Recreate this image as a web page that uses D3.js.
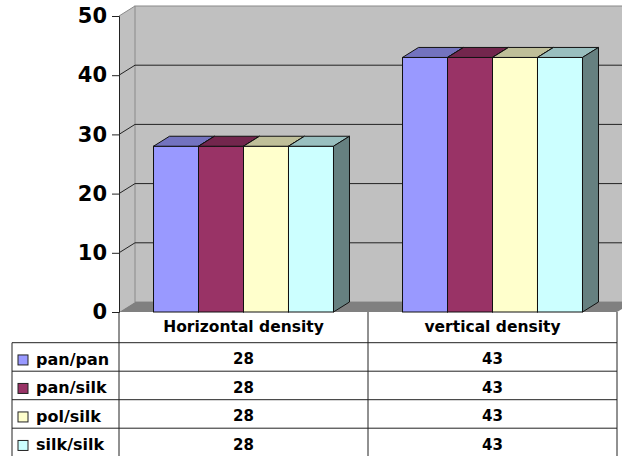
<!DOCTYPE html>
<html>
<head>
<meta charset="utf-8">
<script src="https://cdn.jsdelivr.net/npm/d3@7"></script>
<style>
  body { margin: 0; background: #fff; }
  text { font-family: "DejaVu Sans", Verdana, sans-serif; font-weight: bold; fill: #000; }
</style>
</head>
<body>
<svg id="chart" width="622" height="456"></svg>
<script>
// data
const categories = ["Horizontal density", "vertical density"];
const seriesNames = ["pan/pan", "pan/silk", "pol/silk", "silk/silk"];
const panPan = [28, 43];
const panSilk = [28, 43];
const polSilk = [28, 43];
const silkSilk = [28, 43];
const yTicks = [0, 10, 20, 30, 40, 50];

const seriesValues = [panPan, panSilk, polSilk, silkSilk];
const fronts = ["#9999ff", "#993366", "#ffffcc", "#ccffff"];

const svg = d3.select("#chart");
const plotLeft = 119, plotRight = 617, plotTop = 16, plotBottom = 312;
const dx = 16, dy = 10;   // 3d depth offset
const tableLeft = 12, rowH = 28.5, headerH = 30.7;

const x0 = d3.scaleBand().domain(categories).range([plotLeft, plotRight]);
const x1 = d3.scaleBand().domain(seriesNames).range([0, x0.bandwidth()]).paddingOuter(0.767);
const y = d3.scaleLinear().domain([0, 50]).range([plotBottom, plotTop]);

// walls and floor
svg.append("polygon")
   .attr("points", [[plotLeft, plotTop], [plotLeft + dx, plotTop - dy], [plotLeft + dx, plotBottom - dy], [plotLeft, plotBottom]].join(" "))
   .attr("fill", "#c0c0c0");
svg.append("rect")
   .attr("x", plotLeft + dx).attr("y", plotTop - dy)
   .attr("width", plotRight - plotLeft).attr("height", plotBottom - plotTop)
   .attr("fill", "#c0c0c0").attr("stroke", "#8a8a8a");
svg.append("polygon")
   .attr("points", [[plotLeft, plotBottom], [plotLeft + dx, plotBottom - dy], [plotRight + dx, plotBottom - dy], [plotRight, plotBottom]].join(" "))
   .attr("fill", "#808080");

// gridlines on back wall + side wall diagonals
const grid = svg.append("g").attr("class", "gridlines");
yTicks.filter(t => t > 0 && t < 50).forEach(t => {
    grid.append("line")
        .attr("x1", plotLeft + dx).attr("x2", plotRight + dx)
        .attr("y1", y(t) - dy).attr("y2", y(t) - dy)
        .attr("stroke", "#222");
});
yTicks.filter(t => t > 0).forEach(t => {
    grid.append("line")
        .attr("x1", plotLeft).attr("x2", plotLeft + dx)
        .attr("y1", y(t)).attr("y2", y(t) - dy)
        .attr("stroke", t == 50 ? "#8a8a8a" : "#222");
});

// y axis
const leftAxis = d3.axisLeft(y).tickValues(yTicks).tickSize(7).tickPadding(5);
const ax = svg.append("g")
   .attr("class", "axis")
   .attr("transform", `translate(${plotLeft},0)`)
   .call(leftAxis);
ax.select(".domain").attr("stroke", "#222");
ax.selectAll(".tick line").attr("stroke", "#222");
ax.selectAll("text").style("font-size", "21px").attr("fill", "#000");

// bars
categories.forEach((cat, ci) => {
    const g = svg.append("g").attr("class", "group");
    seriesNames.forEach((s, si) => {
        const v = seriesValues[si][ci];
        const bx = x0(cat) + x1(s), bw = x1.bandwidth();
        const by = y(v);
        g.append("rect")
         .attr("x", bx).attr("y", by).attr("width", bw).attr("height", plotBottom - by)
         .attr("fill", fronts[si]).attr("stroke", "#111");
        g.append("polygon")
         .attr("points", [[bx, by], [bx + dx, by - dy], [bx + bw + dx, by - dy], [bx + bw, by]].join(" "))
         .attr("fill", d3.interpolateRgb(fronts[si], "#000")(0.25)).attr("stroke", "#111");
        g.append("polygon")
         .attr("points", [[bx + bw, by], [bx + bw + dx, by - dy], [bx + bw + dx, plotBottom - dy], [bx + bw, plotBottom]].join(" "))
         .attr("fill", d3.interpolateRgb(fronts[si], "#000")(0.5)).attr("stroke", "#111");
    });
});

// data table
const table = svg.append("g").attr("class", "table");
const rowTop = i => plotBottom + headerH + i * rowH;
const tableBottom = rowTop(seriesNames.length);
const lineColor = "#222";

table.append("line").attr("x1", plotLeft).attr("x2", plotLeft).attr("y1", plotBottom).attr("y2", tableBottom).attr("stroke", lineColor);
table.append("line").attr("x1", tableLeft).attr("x2", tableLeft).attr("y1", rowTop(0)).attr("y2", tableBottom).attr("stroke", lineColor);
categories.forEach(cat => {
    table.append("line")
         .attr("x1", x0(cat) + x0.bandwidth()).attr("x2", x0(cat) + x0.bandwidth())
         .attr("y1", plotBottom).attr("y2", tableBottom).attr("stroke", lineColor);
    table.append("text")
         .attr("x", x0(cat) + x0.bandwidth() / 2).attr("y", plotBottom + headerH / 2)
         .attr("text-anchor", "middle").attr("dominant-baseline", "central")
         .style("font-size", "15.5px").text(cat);
});
d3.range(seriesNames.length + 1).forEach(i => {
    table.append("line")
         .attr("x1", tableLeft).attr("x2", plotRight)
         .attr("y1", rowTop(i)).attr("y2", rowTop(i)).attr("stroke", lineColor);
});
seriesNames.forEach((s, si) => {
    const cy = rowTop(si) + rowH / 2 + 2.5;
    table.append("rect")
         .attr("x", 18).attr("y", cy - 4.5).attr("width", 10).attr("height", 10)
         .attr("fill", fronts[si]).attr("stroke", "#222");
    table.append("text")
         .attr("x", 36).attr("y", cy)
         .attr("dominant-baseline", "central")
         .style("font-size", "16px").text(s);
    categories.forEach((cat, ci) => {
        table.append("text")
             .attr("x", x0(cat) + x0.bandwidth() / 2).attr("y", cy)
             .attr("text-anchor", "middle").attr("dominant-baseline", "central")
             .style("font-size", "15px").text(seriesValues[si][ci]);
    });
});
</script>
</body>
</html>
